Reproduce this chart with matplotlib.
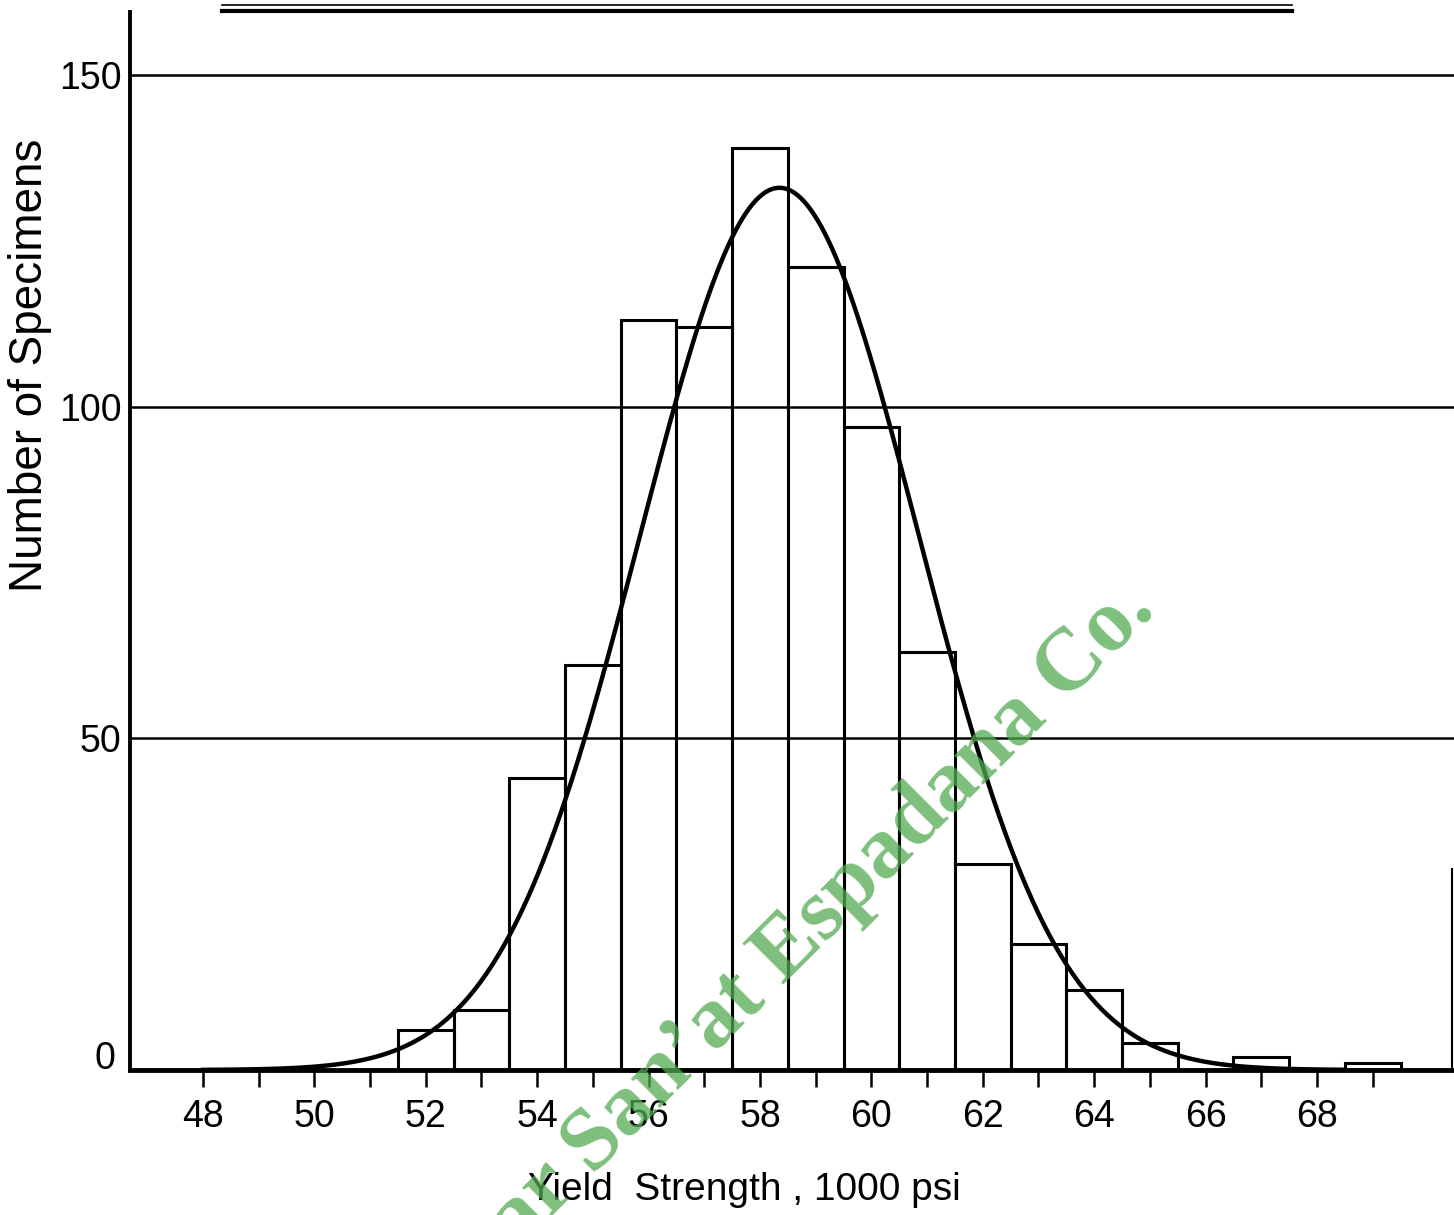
import numpy as np
import matplotlib
matplotlib.use("Agg")
import matplotlib.pyplot as plt
from matplotlib.lines import Line2D
import matplotlib.transforms as mtransforms

# ---- data ----
bin_centers = [52, 53, 54, 55, 56, 57, 58, 59, 60, 61, 62, 63, 64, 65, 66, 67, 68, 69]
counts      = [6, 9, 44, 61, 113, 112, 139, 121, 97, 63, 31, 19, 12, 4, 0, 2, 0, 1]
x_tick_values = list(range(48, 70))
x_tick_labels = [str(v) if v % 2 == 0 else "" for v in x_tick_values]
y_tick_values = [0, 50, 100, 150]
y_tick_labels = ["0", "50", "100", "150"]
# fitted normal curve parameters (peak height, mean, standard deviation)
curve_peak = 133.0
curve_mean = 58.35
curve_sigma = 2.5

SANS = ["Liberation Sans", "DejaVu Sans"]

fig = plt.figure(figsize=(14.54, 12.15), dpi=100)
ax = fig.add_axes([130/1454, 145/1215, 1 - 130/1454, (1070-12)/1215])
ax.set_xlim(46.69, 70.46)
ax.set_ylim(0, 159.5)

# gridlines
for v in y_tick_values[1:]:
    ax.axhline(v, color="black", lw=1.8, zorder=1)

# histogram bars (unfilled)
ax.bar(bin_centers, counts, width=1.0, fill=False, edgecolor="black",
       linewidth=2.2, zorder=2)

# normal curve
xs = np.linspace(48.0, 68.5, 400)
ys = curve_peak * np.exp(-0.5 * ((xs - curve_mean) / curve_sigma) ** 2)
ax.plot(xs, ys, color="black", lw=3.2, zorder=3)

# spines
for s in ["top", "right"]:
    ax.spines[s].set_visible(False)
ax.spines["left"].set_linewidth(2.8)
ax.spines["bottom"].set_linewidth(3.5)
ax.axvline(70.42, 0, 0.19, color="black", lw=1.5)

ax.set_xticks(x_tick_values)
ax.set_xticklabels(x_tick_labels, fontsize=27, family=SANS)
ax.tick_params(axis="x", direction="out", length=12, width=1.8, pad=9)
ax.set_yticks(y_tick_values)
ax.set_yticklabels(y_tick_labels, fontsize=27, family=SANS)
ax.tick_params(axis="y", length=0, pad=6)
# the "0" label sits a little above the axis line in the reference
lab0 = ax.get_yticklabels()[0]
lab0.set_transform(lab0.get_transform() +
                   mtransforms.ScaledTranslation(-6/100, 15/100, fig.dpi_scale_trans))

fig.text(30/1454, 1 - 365/1215, "Number of Specimens", rotation=90,
         ha="center", va="center", fontsize=33, family=SANS)
fig.text(744/1454, 1 - 1190/1215, "Yield  Strength , 1000 psi",
         ha="center", va="center", fontsize=28, family=SANS)

# double rule at top
fig.add_artist(Line2D([222/1454, 1292/1454], [1 - 5/1215, 1 - 5/1215],
                      color="black", lw=1.2, transform=fig.transFigure))
fig.add_artist(Line2D([222/1454, 1292/1454], [1 - 10.5/1215, 1 - 10.5/1215],
                      color="black", lw=3.0, transform=fig.transFigure))

# watermark
fig.text(822/1454, 1 - 915/1215, "ar San\u2019at Espadana Co.", rotation=45,
         rotation_mode="anchor", ha="center", va="center", fontsize=64,
         fontweight="bold", family=["Liberation Serif", "DejaVu Serif"],
         color=(82/255, 170/255, 82/255), alpha=0.75, zorder=10)

fig.savefig("out.png", dpi=100, facecolor="white")
